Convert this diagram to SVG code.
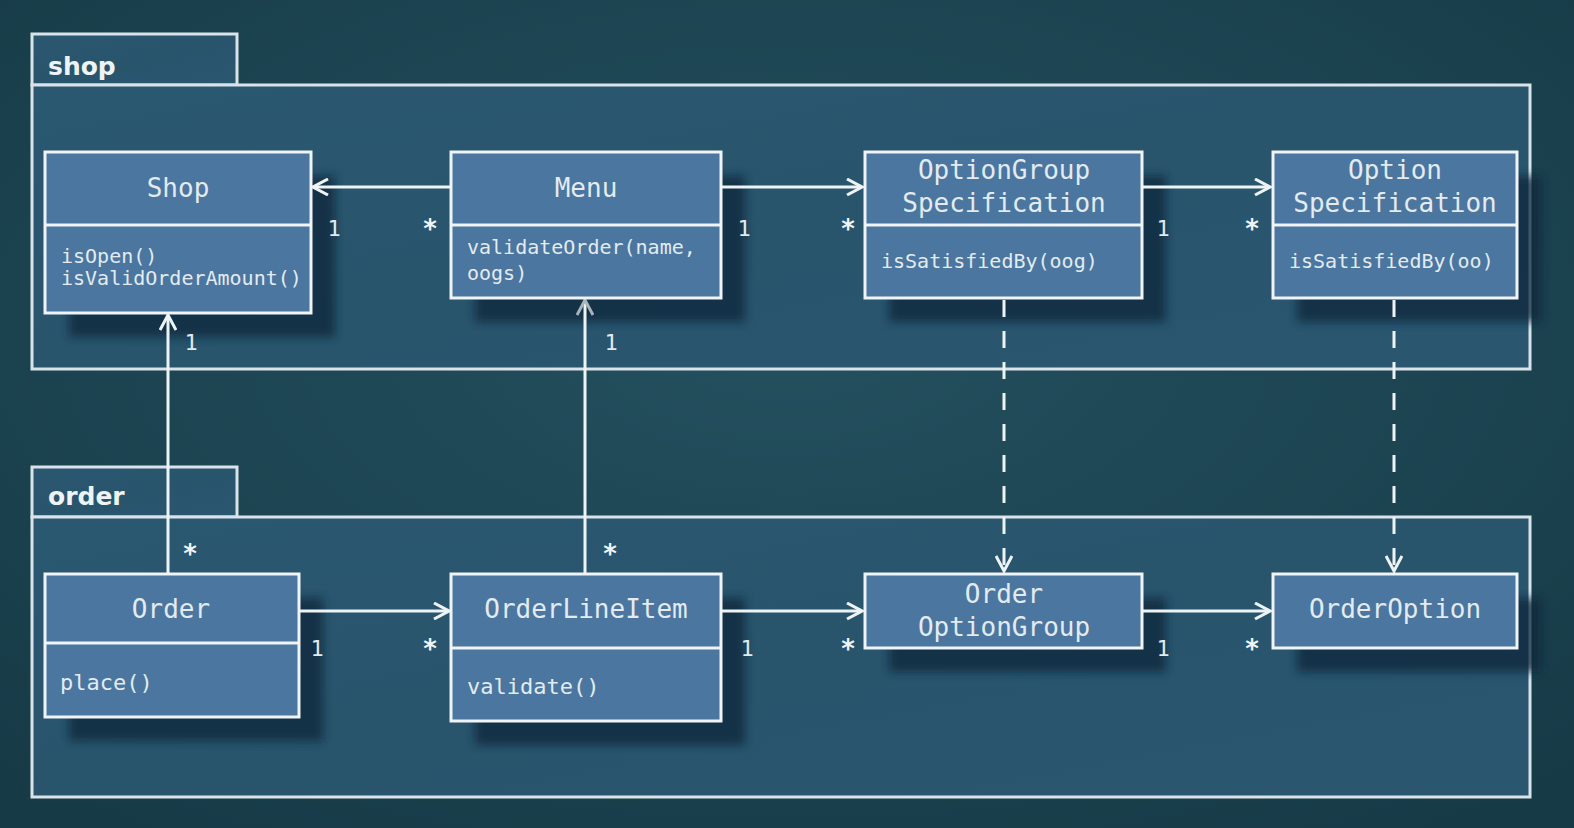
<svg xmlns="http://www.w3.org/2000/svg" width="1574" height="828" viewBox="0 0 1574 828">
<defs>
<radialGradient id="bg" cx="50%" cy="40%" r="75%">
<stop offset="0" stop-color="#24505f"/>
<stop offset="1" stop-color="#163a46"/>
</radialGradient>
<linearGradient id="pkg" x1="0" y1="0" x2="1" y2="1">
<stop offset="0" stop-color="#2b5871"/>
<stop offset="0.5" stop-color="#28546c"/>
<stop offset="1" stop-color="#2a5670"/>
</linearGradient>
<filter id="sh" x="-20%" y="-20%" width="140%" height="140%">
<feGaussianBlur stdDeviation="4"/>
</filter>
<marker id="arr" viewBox="0 0 18 18" refX="16" refY="9" markerWidth="18" markerHeight="18" markerUnits="userSpaceOnUse" orient="auto">
<path d="M1,1 L16,9 L1,17" fill="none" stroke="#eef3f6" stroke-width="3" stroke-linejoin="miter"/>
</marker>
<marker id="arrg" viewBox="0 0 18 18" refX="16" refY="9" markerWidth="18" markerHeight="18" markerUnits="userSpaceOnUse" orient="auto">
<path d="M1,1 L16,9 L1,17" fill="none" stroke="#a8b3ba" stroke-width="3"/>
</marker>
</defs>
<style>
.pk{fill:url(#pkg);stroke:#d9e3e9;stroke-width:3}
.pt{font-family:"DejaVu Sans",sans-serif;font-weight:bold;font-size:25px;fill:#eef3f6}
.box{fill:#4a76a0;stroke:#f0f4f7;stroke-width:3}
.div{stroke:#f0f4f7;stroke-width:3}
.shd{fill:#10283a;opacity:0.75;filter:url(#sh)}
.nm{font-family:"DejaVu Sans Mono",monospace;font-size:26px;fill:#e3ebf1;text-anchor:middle}
.mt{font-family:"DejaVu Sans Mono",monospace;font-size:20px;fill:#e3ebf1}
.mt2{font-family:"DejaVu Sans Mono",monospace;font-size:22px;fill:#e3ebf1}
.ln{fill:none;stroke:#eef3f6;stroke-width:3}
.ds{fill:none;stroke:#eef3f6;stroke-width:3;stroke-dasharray:17 14}
.ml{font-family:"DejaVu Sans Mono",monospace;font-size:22px;fill:#e3ebf1;text-anchor:middle}
.st{font-family:"DejaVu Sans Mono",monospace;font-size:26px;font-weight:bold;fill:#f0f4f7;text-anchor:middle}
</style>
<rect width="1574" height="828" fill="url(#bg)"/>

<g id="pkg-shop">
<rect class="pk" x="32" y="34" width="205" height="51"/>
<rect class="pk" x="32" y="85" width="1498" height="284"/>
<text class="pt" x="48" y="75">shop</text>
</g>
<g id="pkg-order">
<rect class="pk" x="32" y="467" width="205" height="50"/>
<rect class="pk" x="32" y="517" width="1498" height="280"/>
<text class="pt" x="48" y="505">order</text>
</g>

<g id="shadows">
<rect class="shd" x="69" y="176" width="266" height="161"/>
<rect class="shd" x="475" y="176" width="270" height="146"/>
<rect class="shd" x="889" y="176" width="277" height="146"/>
<rect class="shd" x="1297" y="176" width="244" height="146"/>
<rect class="shd" x="69" y="598" width="254" height="143"/>
<rect class="shd" x="475" y="598" width="270" height="147"/>
<rect class="shd" x="889" y="598" width="277" height="74"/>
<rect class="shd" x="1297" y="598" width="244" height="74"/>
</g>

<g id="connectors">
<line class="ln" x1="451" y1="187" x2="313" y2="187" marker-end="url(#arr)"/>
<line class="ln" x1="721" y1="187" x2="862" y2="187" marker-end="url(#arr)"/>
<line class="ln" x1="1142" y1="187" x2="1270" y2="187" marker-end="url(#arr)"/>
<line class="ln" x1="168" y1="574" x2="168" y2="315" marker-end="url(#arr)"/>
<line class="ln" x1="585" y1="574" x2="585" y2="300" marker-end="url(#arrg)"/>
<line class="ln" x1="299" y1="611" x2="449" y2="611" marker-end="url(#arr)"/>
<line class="ln" x1="721" y1="611" x2="862" y2="611" marker-end="url(#arr)"/>
<line class="ln" x1="1142" y1="611" x2="1270" y2="611" marker-end="url(#arr)"/>
<line class="ds" x1="1004" y1="300" x2="1004" y2="571" marker-end="url(#arr)"/>
<line class="ds" x1="1394" y1="300" x2="1394" y2="571" marker-end="url(#arr)"/>
<text class="ml" x="334" y="236">1</text>
<text class="st" x="430" y="238">*</text>
<text class="ml" x="744" y="236">1</text>
<text class="st" x="848" y="238">*</text>
<text class="ml" x="1163" y="236">1</text>
<text class="st" x="1252" y="238">*</text>
<text class="ml" x="191" y="350">1</text>
<text class="st" x="190" y="563">*</text>
<text class="ml" x="611" y="350">1</text>
<text class="st" x="610" y="563">*</text>
<text class="ml" x="317" y="656">1</text>
<text class="st" x="430" y="658">*</text>
<text class="ml" x="747" y="656">1</text>
<text class="st" x="848" y="658">*</text>
<text class="ml" x="1163" y="656">1</text>
<text class="st" x="1252" y="658">*</text>
</g>

<g id="Shop">
<rect class="box" x="45" y="152" width="266" height="161"/>
<line class="div" x1="45" y1="225" x2="311" y2="225"/>
<text class="nm" x="178" y="197">Shop</text>
<text class="mt" x="61" y="263">isOpen()</text>
<text class="mt" x="61" y="285">isValidOrderAmount()</text>
</g>
<g id="Menu">
<rect class="box" x="451" y="152" width="270" height="146"/>
<line class="div" x1="451" y1="225" x2="721" y2="225"/>
<text class="nm" x="586" y="197">Menu</text>
<text class="mt" x="467" y="254">validateOrder(name,</text>
<text class="mt" x="467" y="280">oogs)</text>
</g>
<g id="OptionGroupSpecification">
<rect class="box" x="865" y="152" width="277" height="146"/>
<line class="div" x1="865" y1="225" x2="1142" y2="225"/>
<text class="nm" x="1004" y="179">OptionGroup</text>
<text class="nm" x="1004" y="212">Specification</text>
<text class="mt" x="881" y="268">isSatisfiedBy(oog)</text>
</g>
<g id="OptionSpecification">
<rect class="box" x="1273" y="152" width="244" height="146"/>
<line class="div" x1="1273" y1="225" x2="1517" y2="225"/>
<text class="nm" x="1395" y="179">Option</text>
<text class="nm" x="1395" y="212">Specification</text>
<text class="mt" x="1289" y="268">isSatisfiedBy(oo)</text>
</g>
<g id="Order">
<rect class="box" x="45" y="574" width="254" height="143"/>
<line class="div" x1="45" y1="643" x2="299" y2="643"/>
<text class="nm" x="171" y="618">Order</text>
<text class="mt2" x="60" y="690">place()</text>
</g>
<g id="OrderLineItem">
<rect class="box" x="451" y="574" width="270" height="147"/>
<line class="div" x1="451" y1="648" x2="721" y2="648"/>
<text class="nm" x="586" y="618">OrderLineItem</text>
<text class="mt2" x="467" y="694">validate()</text>
</g>
<g id="OrderOptionGroup">
<rect class="box" x="865" y="574" width="277" height="74"/>
<text class="nm" x="1004" y="603">Order</text>
<text class="nm" x="1004" y="636">OptionGroup</text>
</g>
<g id="OrderOption">
<rect class="box" x="1273" y="574" width="244" height="74"/>
<text class="nm" x="1395" y="618">OrderOption</text>
</g>
</svg>
